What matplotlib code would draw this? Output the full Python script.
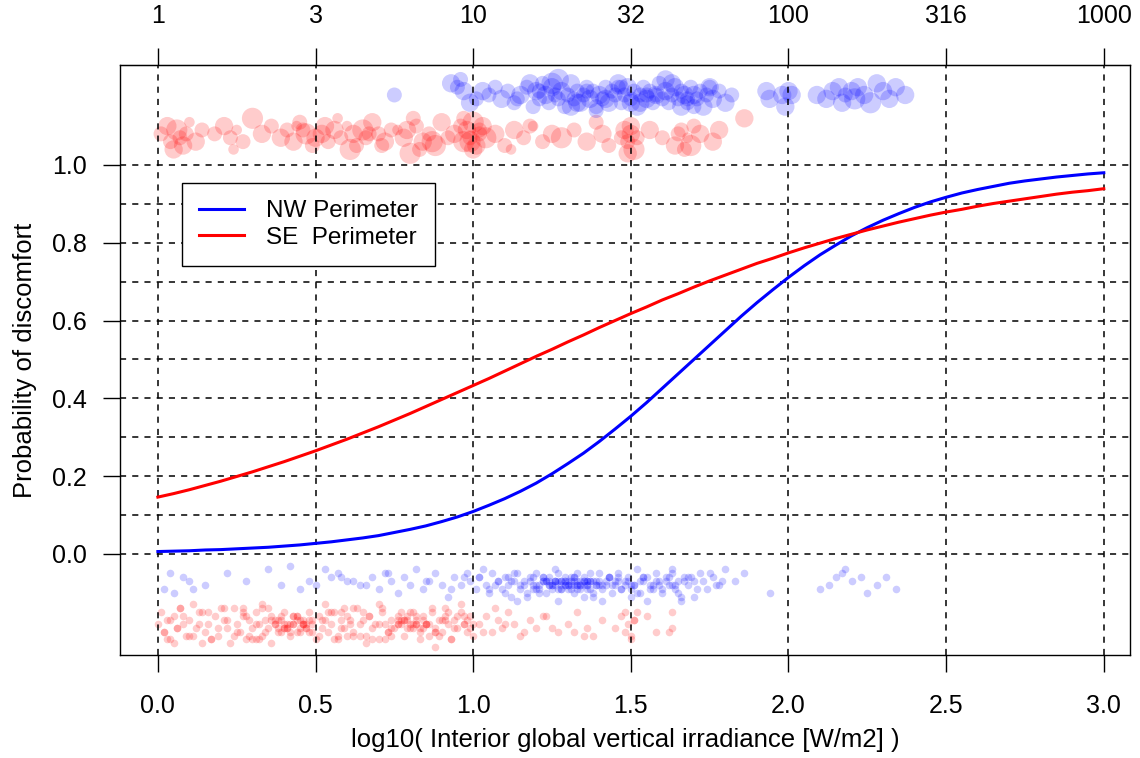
import matplotlib
matplotlib.use("Agg")
import matplotlib.pyplot as plt

plt.rcParams['font.family'] = ['Liberation Sans', 'DejaVu Sans']

# fitted curves
curve_x = [0.00, 0.05, 0.10, 0.15, 0.20, 0.25, 0.30, 0.35, 0.40, 0.45,
           0.50, 0.55, 0.60, 0.65, 0.70, 0.75, 0.80, 0.85, 0.90, 0.95,
           1.00, 1.05, 1.10, 1.15, 1.20, 1.25, 1.30, 1.35, 1.40, 1.45,
           1.50, 1.55, 1.60, 1.65, 1.70, 1.75, 1.80, 1.85, 1.90, 1.95,
           2.00, 2.05, 2.10, 2.15, 2.20, 2.25, 2.30, 2.35, 2.40, 2.45,
           2.50, 2.55, 2.60, 2.65, 2.70, 2.75, 2.80, 2.85, 2.90, 2.95, 3.00]
nw_prob = [0.006, 0.007, 0.008, 0.010, 0.011, 0.013, 0.015, 0.017, 0.020, 0.023,
           0.027, 0.031, 0.036, 0.041, 0.047, 0.055, 0.063, 0.072, 0.083, 0.095,
           0.109, 0.125, 0.142, 0.161, 0.182, 0.206, 0.232, 0.259, 0.289, 0.321,
           0.354, 0.389, 0.426, 0.463, 0.500, 0.537, 0.574, 0.611, 0.646, 0.679,
           0.711, 0.741, 0.769, 0.794, 0.818, 0.839, 0.858, 0.875, 0.891, 0.905,
           0.917, 0.928, 0.937, 0.945, 0.953, 0.959, 0.964, 0.969, 0.973, 0.977, 0.980]
se_prob = [0.146, 0.155, 0.165, 0.176, 0.187, 0.199, 0.211, 0.224, 0.237, 0.251,
           0.265, 0.280, 0.295, 0.311, 0.327, 0.344, 0.361, 0.379, 0.397, 0.415,
           0.433, 0.451, 0.470, 0.489, 0.508, 0.526, 0.545, 0.563, 0.582, 0.600,
           0.618, 0.635, 0.653, 0.669, 0.686, 0.702, 0.717, 0.732, 0.747, 0.760,
           0.774, 0.787, 0.799, 0.811, 0.822, 0.833, 0.843, 0.853, 0.862, 0.871,
           0.879, 0.886, 0.894, 0.901, 0.907, 0.913, 0.919, 0.925, 0.930, 0.934, 0.939]

# observations with discomfort (top rows), SE perimeter
se_yes_x = [0.01, 0.03, 0.04, 0.06, 0.07, 0.08, 0.09, 0.10, 0.12, 0.14,
            0.05, 0.18, 0.21, 0.23, 0.25, 0.27, 0.30, 0.33, 0.36, 0.39,
            0.24, 0.41, 0.43, 0.45, 0.47, 0.49, 0.50, 0.46, 0.44, 0.52,
            0.54, 0.56, 0.58, 0.60, 0.62, 0.63, 0.65, 0.66, 0.68, 0.70,
            0.72, 0.74, 0.57, 0.61, 0.67, 0.53, 0.71, 0.76, 0.78, 0.80,
            0.82, 0.84, 0.86, 0.88, 0.90, 0.92, 0.79, 0.83, 0.87, 0.81,
            0.94, 0.96, 0.97, 0.98, 0.99, 1.00, 1.01, 1.02, 1.03, 0.99,
            1.00, 1.02, 0.97, 1.04, 1.07, 1.10, 1.13, 1.16, 1.19, 1.22,
            1.25, 1.12, 1.18, 1.28, 1.32, 1.36, 1.39, 1.41, 1.43, 1.48,
            1.49, 1.50, 1.51, 1.50, 1.47, 1.56, 1.60, 1.64, 1.66, 1.68,
            1.70, 1.72, 1.67, 1.76, 1.78, 1.86, 1.65, 1.69, 1.52, 1.49]
se_yes_y = [1.08, 1.10, 1.06, 1.09, 1.07, 1.05, 1.08, 1.11, 1.06, 1.09,
            1.04, 1.08, 1.10, 1.07, 1.09, 1.06, 1.12, 1.08, 1.10, 1.07,
            1.04, 1.09, 1.06, 1.11, 1.08, 1.05, 1.07, 1.09, 1.10, 1.08,
            1.06, 1.09, 1.07, 1.10, 1.08, 1.05, 1.09, 1.07, 1.11, 1.08,
            1.06, 1.09, 1.12, 1.04, 1.08, 1.10, 1.05, 1.09, 1.07, 1.03,
            1.10, 1.06, 1.08, 1.05, 1.11, 1.07, 1.09, 1.04, 1.06, 1.12,
            1.08, 1.10, 1.06, 1.09, 1.07, 1.11, 1.05, 1.08, 1.10, 1.06,
            1.04, 1.09, 1.12, 1.07, 1.08, 1.05, 1.09, 1.07, 1.10, 1.06,
            1.08, 1.04, 1.10, 1.07, 1.09, 1.06, 1.11, 1.08, 1.05, 1.09,
            1.06, 1.08, 1.04, 1.10, 1.07, 1.09, 1.07, 1.05, 1.09, 1.07,
            1.10, 1.08, 1.04, 1.06, 1.09, 1.12, 1.08, 1.05, 1.07, 1.03]
se_yes_n = [2, 3, 2, 4, 2, 3, 2, 1, 3, 2,
            3, 2, 3, 2, 1, 2, 4, 3, 2, 3,
            1, 2, 3, 2, 4, 2, 3, 2, 1, 3,
            2, 3, 2, 1, 3, 2, 4, 2, 3, 2,
            3, 2, 1, 4, 2, 3, 2, 1, 3, 4,
            2, 3, 2, 4, 3, 2, 3, 2, 4, 2,
            3, 2, 4, 3, 2, 4, 3, 2, 3, 4,
            3, 2, 2, 4, 3, 2, 3, 2, 1, 2,
            3, 1, 2, 4, 2, 3, 2, 3, 2, 3,
            2, 3, 4, 3, 2, 3, 2, 3, 2, 1,
            2, 3, 2, 3, 3, 3, 2, 4, 2, 3]

# observations with discomfort (top rows), NW perimeter
nw_yes_x = [0.75, 0.93, 0.95, 0.97, 0.96, 0.99, 1.01, 1.03, 1.05, 1.07,
            1.09, 1.11, 1.13, 1.15, 1.17, 1.19, 1.20, 1.21, 1.22, 1.23,
            1.24, 1.25, 1.26, 1.27, 1.28, 1.29, 1.30, 1.31, 1.32, 1.33,
            1.34, 1.35, 1.36, 1.37, 1.38, 1.39, 1.40, 1.41, 1.42, 1.43,
            1.44, 1.45, 1.46, 1.47, 1.48, 1.49, 1.50, 1.51, 1.52, 1.53,
            1.54, 1.55, 1.56, 1.57, 1.58, 1.59, 1.60, 1.61, 1.62, 1.63,
            1.64, 1.65, 1.66, 1.67, 1.68, 1.69, 1.70, 1.71, 1.72, 1.73,
            1.74, 1.75, 1.76, 1.78, 1.80, 1.82, 1.25, 1.31, 1.36, 1.42,
            1.47, 1.53, 1.58, 1.63, 1.68, 1.21, 1.33, 1.46, 1.55, 1.66,
            1.93, 1.94, 1.98, 1.99, 2.00, 2.01, 2.09, 2.12, 2.14, 2.16,
            2.17, 2.18, 2.20, 2.21, 2.22, 2.24, 2.26, 2.28, 2.30, 2.32,
            2.34, 2.37, 1.70, 1.18, 1.27, 1.39, 1.50, 1.61, 1.75, 1.14]
nw_yes_y = [1.18, 1.21, 1.20, 1.19, 1.22, 1.16, 1.17, 1.19, 1.18, 1.20,
            1.17, 1.19, 1.16, 1.18, 1.20, 1.15, 1.19, 1.17, 1.21, 1.18,
            1.16, 1.20, 1.18, 1.17, 1.19, 1.15, 1.18, 1.21, 1.17, 1.19,
            1.16, 1.18, 1.20, 1.17, 1.19, 1.15, 1.18, 1.17, 1.20, 1.16,
            1.19, 1.18, 1.21, 1.16, 1.18, 1.20, 1.17, 1.19, 1.15, 1.18,
            1.20, 1.17, 1.19, 1.16, 1.18, 1.21, 1.17, 1.19, 1.16, 1.18,
            1.20, 1.17, 1.19, 1.18, 1.16, 1.20, 1.18, 1.17, 1.19, 1.15,
            1.18, 1.20, 1.17, 1.19, 1.16, 1.18, 1.21, 1.15, 1.19, 1.17,
            1.20, 1.16, 1.18, 1.21, 1.17, 1.19, 1.16, 1.20, 1.18, 1.15,
            1.19, 1.17, 1.18, 1.15, 1.19, 1.18, 1.18, 1.17, 1.19, 1.20,
            1.16, 1.18, 1.19, 1.17, 1.20, 1.18, 1.16, 1.21, 1.19, 1.17,
            1.20, 1.18, 1.15, 1.21, 1.22, 1.14, 1.16, 1.22, 1.20, 1.17]
nw_yes_n = [2, 3, 2, 3, 2, 3, 2, 3, 2, 2,
            3, 2, 2, 3, 2, 2, 3, 2, 2, 3,
            2, 3, 2, 2, 3, 2, 2, 3, 2, 2,
            3, 2, 2, 3, 2, 2, 3, 2, 2, 3,
            2, 2, 3, 2, 2, 3, 2, 2, 3, 2,
            2, 3, 2, 2, 3, 2, 2, 3, 2, 2,
            3, 2, 2, 3, 2, 2, 3, 2, 2, 3,
            2, 2, 3, 2, 3, 2, 4, 3, 2, 3,
            2, 3, 2, 3, 2, 2, 3, 2, 2, 3,
            3, 3, 3, 3, 3, 3, 3, 3, 3, 3,
            3, 2, 3, 4, 3, 3, 4, 3, 3, 3,
            3, 3, 2, 3, 4, 2, 3, 3, 3, 2]

# observations without discomfort (bottom rows), NW perimeter
nw_no_x = [0.02, 0.04, 0.05, 0.08, 0.10, 0.11, 0.35, 0.39, 0.42, 0.48,
           0.50, 0.53, 0.55, 0.57, 0.60, 0.62, 0.64, 0.68, 0.70, 0.73,
           0.74, 0.76, 0.78, 0.80, 0.82, 0.84, 0.86, 0.88, 0.90, 0.92,
           0.94, 0.96, 0.98, 0.99, 1.01, 1.02, 1.04, 1.05, 1.06, 1.08,
           1.09, 1.10, 1.11, 1.12, 1.13, 1.14, 1.15, 1.16, 1.17, 1.18,
           1.19, 1.20, 1.21, 1.22, 1.23, 1.24, 1.25, 1.26, 1.27, 1.28,
           1.29, 1.30, 1.31, 1.32, 1.33, 1.34, 1.35, 1.36, 1.37, 1.38,
           1.39, 1.40, 1.41, 1.42, 1.43, 1.44, 1.45, 1.46, 1.47, 1.48,
           1.49, 1.50, 1.51, 1.52, 1.53, 1.54, 1.55, 1.56, 1.57, 1.58,
           1.59, 1.60, 1.61, 1.62, 1.63, 1.64, 1.65, 1.66, 1.67, 1.68,
           1.70, 1.72, 1.74, 1.76, 1.78, 1.80, 1.83, 1.86, 2.10, 2.15,
           1.18, 1.20, 1.22, 1.24, 1.26, 1.28, 1.30, 1.32, 1.34, 1.36,
           1.21, 1.23, 1.25, 1.27, 1.29, 1.31, 1.33, 1.35, 1.37, 1.39,
           1.12, 1.15, 1.19, 1.22, 1.26, 1.29, 1.33, 1.36, 1.40, 1.43,
           1.46, 1.50, 1.54, 1.57, 1.61, 1.64, 1.68, 1.03, 1.07, 1.11,
           2.13, 2.17, 2.20, 2.23, 2.25, 2.28, 2.31, 2.34, 1.94, 2.18,
           1.02, 1.05, 1.08, 1.10, 1.13, 1.16, 1.19, 1.21, 1.24, 1.27,
           1.28, 1.30, 1.32, 1.34, 1.35, 1.37, 1.38, 1.40, 1.41, 1.43,
           1.44, 1.46, 1.47, 1.49, 1.51, 1.52, 1.54, 1.56, 1.58, 1.60,
           1.62, 1.63, 1.65, 1.67, 1.69, 1.71, 1.73, 1.75, 1.77, 1.79,
           1.20, 1.23, 1.26, 1.29, 1.31, 1.33, 1.36, 1.38, 1.30, 1.32,
           1.22, 1.25, 1.28, 1.34, 1.39, 1.42, 1.45, 1.48, 1.53, 1.59,
           0.15, 0.22, 0.28, 0.45, 0.58, 0.66, 0.72, 0.85, 0.93, 0.97,
           1.14, 1.17, 1.27, 1.35, 1.41, 1.50, 1.55, 1.63, 1.70, 1.66,
           1.24, 1.29, 1.33, 1.37, 1.26, 1.31, 1.35, 1.28, 1.32, 1.36]
nw_no_y = [-0.09, -0.05, -0.10, -0.06, -0.07, -0.09, -0.04, -0.08, -0.03, -0.07,
           -0.08, -0.04, -0.06, -0.05, -0.07, -0.07, -0.08, -0.06, -0.09, -0.05,
           -0.07, -0.10, -0.06, -0.08, -0.04, -0.09, -0.07, -0.05, -0.08, -0.11,
           -0.06, -0.08, -0.05, -0.07, -0.09, -0.06, -0.08, -0.10, -0.05, -0.07,
           -0.09, -0.06, -0.08, -0.11, -0.07, -0.05, -0.09, -0.07, -0.10, -0.06,
           -0.08, -0.05, -0.09, -0.07, -0.10, -0.06, -0.08, -0.04, -0.09, -0.07,
           -0.06, -0.09, -0.07, -0.10, -0.05, -0.08, -0.06, -0.09, -0.07, -0.11,
           -0.08, -0.05, -0.09, -0.07, -0.06, -0.10, -0.08, -0.05, -0.09, -0.07,
           -0.06, -0.09, -0.08, -0.04, -0.10, -0.07, -0.06, -0.09, -0.08, -0.05,
           -0.07, -0.10, -0.06, -0.08, -0.05, -0.09, -0.07, -0.11, -0.06, -0.08,
           -0.07, -0.05, -0.09, -0.06, -0.08, -0.04, -0.07, -0.05, -0.09, -0.06,
           -0.07, -0.09, -0.06, -0.08, -0.07, -0.09, -0.08, -0.06, -0.07, -0.08,
           -0.08, -0.07, -0.09, -0.07, -0.08, -0.06, -0.08, -0.07, -0.09, -0.08,
           -0.07, -0.08, -0.09, -0.06, -0.07, -0.08, -0.09, -0.07, -0.08, -0.06,
           -0.07, -0.08, -0.06, -0.09, -0.07, -0.08, -0.06, -0.04, -0.08, -0.06,
           -0.08, -0.05, -0.07, -0.06, -0.10, -0.08, -0.06, -0.09, -0.10, -0.04,
           -0.06, -0.09, -0.07, -0.10, -0.05, -0.08, -0.06, -0.10, -0.07, -0.05,
           -0.09, -0.07, -0.06, -0.09, -0.08, -0.05, -0.10, -0.07, -0.08, -0.06,
           -0.08, -0.06, -0.09, -0.07, -0.08, -0.10, -0.06, -0.08, -0.07, -0.09,
           -0.06, -0.08, -0.10, -0.07, -0.06, -0.09, -0.07, -0.05, -0.08, -0.07,
           -0.08, -0.07, -0.08, -0.07, -0.09, -0.07, -0.08, -0.07, -0.08, -0.07,
           -0.07, -0.08, -0.07, -0.08, -0.07, -0.08, -0.07, -0.08, -0.07, -0.08,
           -0.08, -0.05, -0.07, -0.09, -0.06, -0.08, -0.05, -0.07, -0.09, -0.06,
           -0.12, -0.11, -0.12, -0.11, -0.12, -0.11, -0.12, -0.04, -0.11, -0.12,
           -0.08, -0.07, -0.08, -0.07, -0.07, -0.08, -0.07, -0.08, -0.08, -0.07]

# observations without discomfort (bottom rows), SE perimeter
se_no_x = [0.00, 0.01, 0.02, 0.03, 0.04, 0.05, 0.06, 0.07, 0.08, 0.09,
           0.10, 0.12, 0.13, 0.15, 0.16, 0.18, 0.19, 0.21, 0.22, 0.24,
           0.25, 0.26, 0.27, 0.28, 0.29, 0.30, 0.31, 0.32, 0.33, 0.34,
           0.35, 0.36, 0.37, 0.38, 0.39, 0.40, 0.41, 0.42, 0.43, 0.44,
           0.45, 0.46, 0.47, 0.48, 0.49, 0.50, 0.51, 0.52, 0.53, 0.54,
           0.55, 0.56, 0.57, 0.58, 0.59, 0.60, 0.61, 0.62, 0.63, 0.64,
           0.65, 0.66, 0.67, 0.68, 0.69, 0.70, 0.71, 0.72, 0.73, 0.74,
           0.75, 0.76, 0.77, 0.78, 0.79, 0.80, 0.81, 0.82, 0.83, 0.84,
           0.85, 0.86, 0.87, 0.88, 0.89, 0.90, 0.91, 0.92, 0.93, 0.94,
           0.95, 0.96, 0.97, 0.98, 0.99, 1.00, 0.38, 0.40, 0.42, 0.44,
           0.46, 0.48, 0.39, 0.41, 0.43, 0.45, 0.47, 0.49, 0.37, 0.44,
           0.76, 0.78, 0.80, 0.82, 0.84, 0.79, 0.81, 0.83, 0.77, 0.85,
           0.05, 0.11, 0.17, 0.20, 0.23, 0.33, 0.36, 0.53, 0.57, 0.62,
           0.66, 0.70, 0.72, 0.88, 0.91, 0.93, 0.96, 0.14, 0.27, 0.31,
           1.02, 1.04, 1.06, 1.08, 1.09, 1.11, 1.13, 1.15, 1.18, 1.20,
           1.23, 1.27, 1.30, 1.33, 1.36, 1.38, 1.41, 1.45, 1.47, 1.48,
           1.49, 1.50, 1.51, 1.52, 1.55, 1.58, 1.63, 1.63, 1.07, 1.35,
           0.02, 0.04, 0.06, 0.08, 0.11, 0.13, 0.16, 0.19, 0.22, 0.25,
           0.28, 0.31, 0.34, 0.37, 0.40, 0.43, 0.46, 0.49, 0.52, 0.55,
           0.58, 0.61, 0.64, 0.67, 0.70, 0.73, 0.76, 0.79, 0.82, 0.85,
           0.88, 0.91, 0.94, 0.97, 1.00, 0.36, 0.38, 0.40, 0.42, 0.44,
           0.46, 0.48, 0.39, 0.41, 0.43, 0.45, 0.47, 0.80, 0.82, 0.84,
           0.78, 0.86, 0.88, 0.90, 0.74, 0.76, 0.98, 0.99, 0.97, 0.95,
           0.03, 0.07, 0.10, 0.14, 0.17, 0.21, 0.24, 0.27, 0.30, 0.33,
           0.51, 0.54, 0.56, 0.59, 0.62, 0.65, 0.68, 0.71, 0.74, 0.77,
           0.92, 0.89, 0.87, 0.83, 0.81, 0.60, 0.58, 0.35, 0.32, 0.29,
           1.03, 1.10, 1.16, 1.22, 1.25, 1.32, 1.48, 1.50, 1.51, 1.62]
se_no_y = [-0.18, -0.15, -0.20, -0.17, -0.22, -0.16, -0.19, -0.14, -0.18, -0.21,
           -0.17, -0.19, -0.15, -0.20, -0.18, -0.16, -0.21, -0.17, -0.19, -0.14,
           -0.18, -0.20, -0.16, -0.22, -0.17, -0.19, -0.15, -0.18, -0.21, -0.17,
           -0.19, -0.16, -0.18, -0.20, -0.17, -0.15, -0.19, -0.21, -0.18, -0.16,
           -0.20, -0.17, -0.19, -0.15, -0.18, -0.22, -0.16, -0.19, -0.17, -0.20,
           -0.18, -0.15, -0.21, -0.17, -0.19, -0.16, -0.18, -0.20, -0.14, -0.18,
           -0.17, -0.21, -0.16, -0.19, -0.18, -0.22, -0.15, -0.18, -0.20, -0.17,
           -0.19, -0.16, -0.18, -0.21, -0.17, -0.15, -0.19, -0.18, -0.20, -0.16,
           -0.18, -0.21, -0.15, -0.19, -0.17, -0.20, -0.16, -0.18, -0.22, -0.17,
           -0.19, -0.15, -0.18, -0.20, -0.16, -0.18, -0.17, -0.19, -0.18, -0.16,
           -0.18, -0.17, -0.20, -0.18, -0.16, -0.19, -0.18, -0.17, -0.18, -0.20,
           -0.18, -0.17, -0.19, -0.18, -0.17, -0.16, -0.18, -0.19, -0.17, -0.18,
           -0.23, -0.13, -0.22, -0.14, -0.23, -0.13, -0.23, -0.13, -0.22, -0.14,
           -0.23, -0.13, -0.22, -0.24, -0.14, -0.22, -0.13, -0.23, -0.14, -0.22,
           -0.18, -0.16, -0.20, -0.17, -0.19, -0.15, -0.18, -0.21, -0.17, -0.19,
           -0.16, -0.20, -0.18, -0.15, -0.19, -0.21, -0.17, -0.19, -0.16, -0.20,
           -0.18, -0.22, -0.17, -0.15, -0.16, -0.20, -0.15, -0.19, -0.14, -0.21,
           -0.20, -0.17, -0.19, -0.16, -0.21, -0.18, -0.15, -0.19, -0.17, -0.20,
           -0.16, -0.18, -0.20, -0.17, -0.19, -0.16, -0.18, -0.20, -0.17, -0.15,
           -0.19, -0.17, -0.21, -0.16, -0.18, -0.20, -0.17, -0.19, -0.16, -0.18,
           -0.20, -0.17, -0.19, -0.16, -0.21, -0.17, -0.19, -0.18, -0.20, -0.17,
           -0.18, -0.20, -0.16, -0.19, -0.18, -0.17, -0.19, -0.18, -0.17, -0.19,
           -0.17, -0.18, -0.20, -0.17, -0.19, -0.18, -0.17, -0.19, -0.18, -0.16,
           -0.22, -0.14, -0.21, -0.15, -0.22, -0.14, -0.21, -0.15, -0.22, -0.14,
           -0.21, -0.15, -0.22, -0.14, -0.21, -0.15, -0.22, -0.14, -0.21, -0.15,
           -0.15, -0.21, -0.14, -0.22, -0.15, -0.21, -0.15, -0.14, -0.22, -0.21,
           -0.20, -0.18, -0.20, -0.16, -0.19, -0.20, -0.15, -0.21, -0.17, -0.20]

x_ticks = [0.0, 0.5, 1.0, 1.5, 2.0, 2.5, 3.0]
top_labels = ['1', '3', '10', '32', '100', '316', '1000']
y_ticks = [0.0, 0.2, 0.4, 0.6, 0.8, 1.0]
y_grid = [0.0, 0.1, 0.2, 0.3, 0.4, 0.5, 0.6, 0.7, 0.8, 0.9, 1.0]

fig = plt.figure(figsize=(11.4, 7.58), dpi=100)
ax = fig.add_axes([0.1053, 0.1359, 0.8859, 0.7783])

blue_a = (0, 0, 1, 0.2)
red_a = (1, 0, 0, 0.2)

ax.scatter(se_yes_x, se_yes_y, s=[58 * n for n in se_yes_n], color=red_a, linewidths=0, zorder=2)
ax.scatter(nw_yes_x, nw_yes_y, s=[58 * n for n in nw_yes_n], color=blue_a, linewidths=0, zorder=2)
ax.scatter(nw_no_x, nw_no_y, s=30, color=blue_a, linewidths=0, zorder=2)
ax.scatter(se_no_x, se_no_y, s=30, color=red_a, linewidths=0, zorder=2)

# dashed grid
for gx in x_ticks:
    ax.axvline(gx, color='black', lw=1.1, ls=(0, (4, 4)), zorder=3)
for gy in y_grid:
    ax.axhline(gy, color='black', lw=1.1, ls=(0, (4, 4)), zorder=3)

ax.plot(curve_x, nw_prob, color='blue', lw=2.2, zorder=4, label='NW Perimeter')
ax.plot(curve_x, se_prob, color='red', lw=2.2, zorder=4, label='SE  Perimeter')

ax.set_xlim(-0.12, 3.083)
ax.set_ylim(-0.26, 1.257)

ax.set_xticks(x_ticks)
ax.set_xticklabels(['%.1f' % v for v in x_ticks])
ax.set_yticks(y_ticks)
ax.set_yticklabels(['%.1f' % v for v in y_ticks])
ax.tick_params(axis='both', direction='out', length=12, width=1, labelsize=18)
ax.tick_params(axis='x', pad=16)
ax.tick_params(axis='y', pad=12)

top = ax.secondary_xaxis('top')
top.set_xticks(x_ticks)
top.set_xticklabels(top_labels)
top.tick_params(direction='out', length=12, width=1, labelsize=18, pad=15)

for sp in ax.spines.values():
    sp.set_linewidth(1)

ax.set_xlabel('log10( Interior global vertical irradiance [W/m2] )', fontsize=18.5, labelpad=7)
ax.set_ylabel('Probability of discomfort', fontsize=18.5, labelpad=11)

leg = ax.legend(loc='upper left', bbox_to_anchor=(0.0614, 0.80), fontsize=17.5,
                fancybox=False, framealpha=1, edgecolor='black',
                handlelength=1.85, borderpad=0.7, labelspacing=0.2, handletextpad=0.9,
                borderaxespad=0)
leg.get_frame().set_linewidth(1)
leg.set_zorder(5)

fig.savefig('out.png', dpi=100)
